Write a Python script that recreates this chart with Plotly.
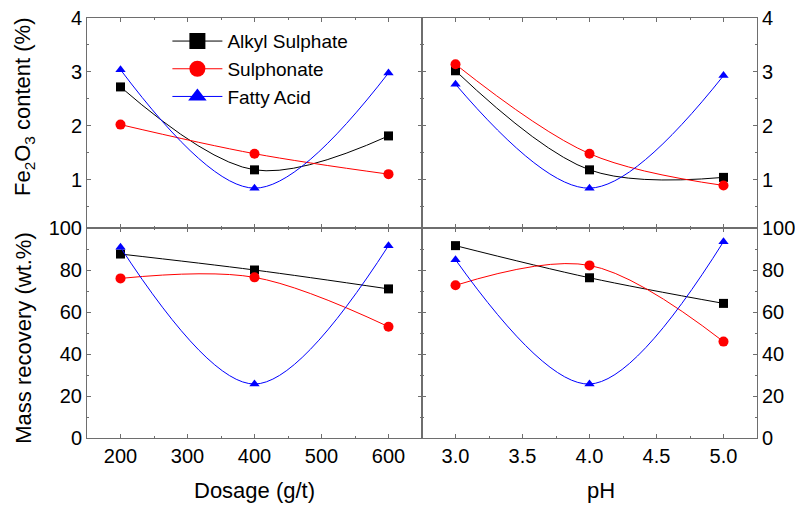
import plotly.graph_objects as go

# Collector dosage series (g/t)
dosage = [200, 400, 600]
# pH series
ph = [3.0, 4.0, 5.0]

series_names = ["Alkyl Sulphate", "Sulphonate", "Fatty Acid"]

# Fe2O3 content (%) in concentrate
fe_dosage_alkyl = [2.72, 1.18, 1.81]
fe_dosage_sulph = [2.02, 1.48, 1.10]
fe_dosage_fatty = [3.04, 0.84, 2.98]

fe_ph_alkyl = [3.02, 1.18, 1.04]
fe_ph_sulph = [3.14, 1.48, 0.89]
fe_ph_fatty = [2.77, 0.84, 2.93]

# Mass recovery (wt.%)
mr_dosage_alkyl = [87.6, 80.0, 71.0]
mr_dosage_sulph = [76.0, 76.5, 53.0]
mr_dosage_fatty = [90.8, 25.7, 91.6]

mr_ph_alkyl = [91.6, 76.3, 64.1]
mr_ph_sulph = [72.7, 82.2, 45.9]
mr_ph_fatty = [84.9, 25.7, 93.5]

colors = ["#000000", "#ff0000", "#0000ff"]
symbols = ["square", "circle", "triangle-up"]
marker_sizes = [9, 10, 9]

FONT = "Liberation Sans, Arial, sans-serif"
AXIS_COLOR = "#6e6e6e"

fig = go.Figure()

panels = [
    ("x", "y", dosage, [fe_dosage_alkyl, fe_dosage_sulph, fe_dosage_fatty]),
    ("x2", "y2", ph, [fe_ph_alkyl, fe_ph_sulph, fe_ph_fatty]),
    ("x3", "y3", dosage, [mr_dosage_alkyl, mr_dosage_sulph, mr_dosage_fatty]),
    ("x4", "y4", ph, [mr_ph_alkyl, mr_ph_sulph, mr_ph_fatty]),
]

for xa, ya, xs, ys_list in panels:
    for name, ys, c, s, ms in zip(series_names, ys_list, colors, symbols, marker_sizes):
        fig.add_trace(go.Scatter(
            x=xs, y=ys, xaxis=xa, yaxis=ya,
            mode="lines+markers", name=name, showlegend=False,
            line=dict(color=c, width=1, shape="spline", smoothing=1.0),
            marker=dict(symbol=s, size=ms, color=c),
        ))

# Legend entries with larger symbols
for name, c, s in zip(series_names, colors, symbols):
    fig.add_trace(go.Scatter(
        x=[None], y=[None], xaxis="x", yaxis="y",
        mode="lines+markers", name=name,
        line=dict(color=c, width=1),
        marker=dict(symbol=s, size=16, color=c),
    ))

common = dict(
    showline=True, linecolor=AXIS_COLOR, linewidth=1, mirror="ticks",
    ticks="inside", ticklen=4, tickwidth=1, tickcolor=AXIS_COLOR,
    showgrid=False, zeroline=False, automargin=False,
    tickfont=dict(family=FONT, size=20, color="#000000"),
)

x_dos = dict(range=[150, 650], tick0=200, dtick=100,
             minor=dict(ticks="inside", ticklen=2, dtick=50, tick0=200,
                        tickcolor=AXIS_COLOR, showgrid=False))
x_ph = dict(range=[2.75, 5.25], tick0=3.0, dtick=0.5, tickformat=".1f",
            minor=dict(ticks="inside", ticklen=2, dtick=0.25, tick0=3.0,
                       tickcolor=AXIS_COLOR, showgrid=False))
y_fe = dict(range=[0.1, 4], tick0=0, dtick=1,
            minor=dict(ticks="inside", ticklen=2, dtick=0.5, tick0=0,
                       tickcolor=AXIS_COLOR, showgrid=False))
y_mr = dict(range=[0, 100], tick0=0, dtick=20,
            minor=dict(ticks="inside", ticklen=2, dtick=10, tick0=0,
                       tickcolor=AXIS_COLOR, showgrid=False))

fig.update_layout(
    width=795, height=506,
    margin=dict(l=87, r=38, t=18, b=68, autoexpand=False),
    paper_bgcolor="white", plot_bgcolor="white",
    font=dict(family=FONT, color="#000000"),
    xaxis=dict(domain=[0, 0.5], anchor="y", showticklabels=False, **x_dos, **common),
    xaxis2=dict(domain=[0.5, 1], anchor="y2", showticklabels=False, **x_ph, **common),
    xaxis3=dict(domain=[0, 0.5], anchor="y3", **x_dos, **common),
    xaxis4=dict(domain=[0.5, 1], anchor="y4", **x_ph, **common),
    yaxis=dict(domain=[0.5, 1], anchor="x", **y_fe, **common),
    yaxis2=dict(domain=[0.5, 1], anchor="x2", side="right", **y_fe, **common),
    yaxis3=dict(domain=[0, 0.5], anchor="x3", **y_mr, **common),
    yaxis4=dict(domain=[0, 0.5], anchor="x4", side="right", **y_mr, **common),
    legend=dict(
        x=0.12, y=0.99, xanchor="left", yanchor="top",
        bgcolor="rgba(0,0,0,0)", borderwidth=0,
        font=dict(family=FONT, size=19, color="#000000"),
        itemwidth=50,
    ),
    showlegend=True,
)

title_font = dict(family=FONT, size=22, color="#000000")
fig.add_annotation(text="Fe<sub>2</sub>O<sub>3</sub> content (%)", xref="paper", yref="paper",
                   x=-0.094, y=0.788, textangle=-90, showarrow=False,
                   xanchor="center", yanchor="middle", font=title_font)
fig.add_annotation(text="Mass recovery (wt.%)", xref="paper", yref="paper",
                   x=-0.096, y=0.238, textangle=-90, showarrow=False,
                   xanchor="center", yanchor="middle", font=title_font)
fig.add_annotation(text="Dosage (g/t)", xref="paper", yref="paper",
                   x=0.2507, y=-0.124, showarrow=False,
                   xanchor="center", yanchor="middle", font=title_font)
fig.add_annotation(text="pH", xref="paper", yref="paper",
                   x=0.767, y=-0.124, showarrow=False,
                   xanchor="center", yanchor="middle", font=title_font)

fig.write_html("out.html")
